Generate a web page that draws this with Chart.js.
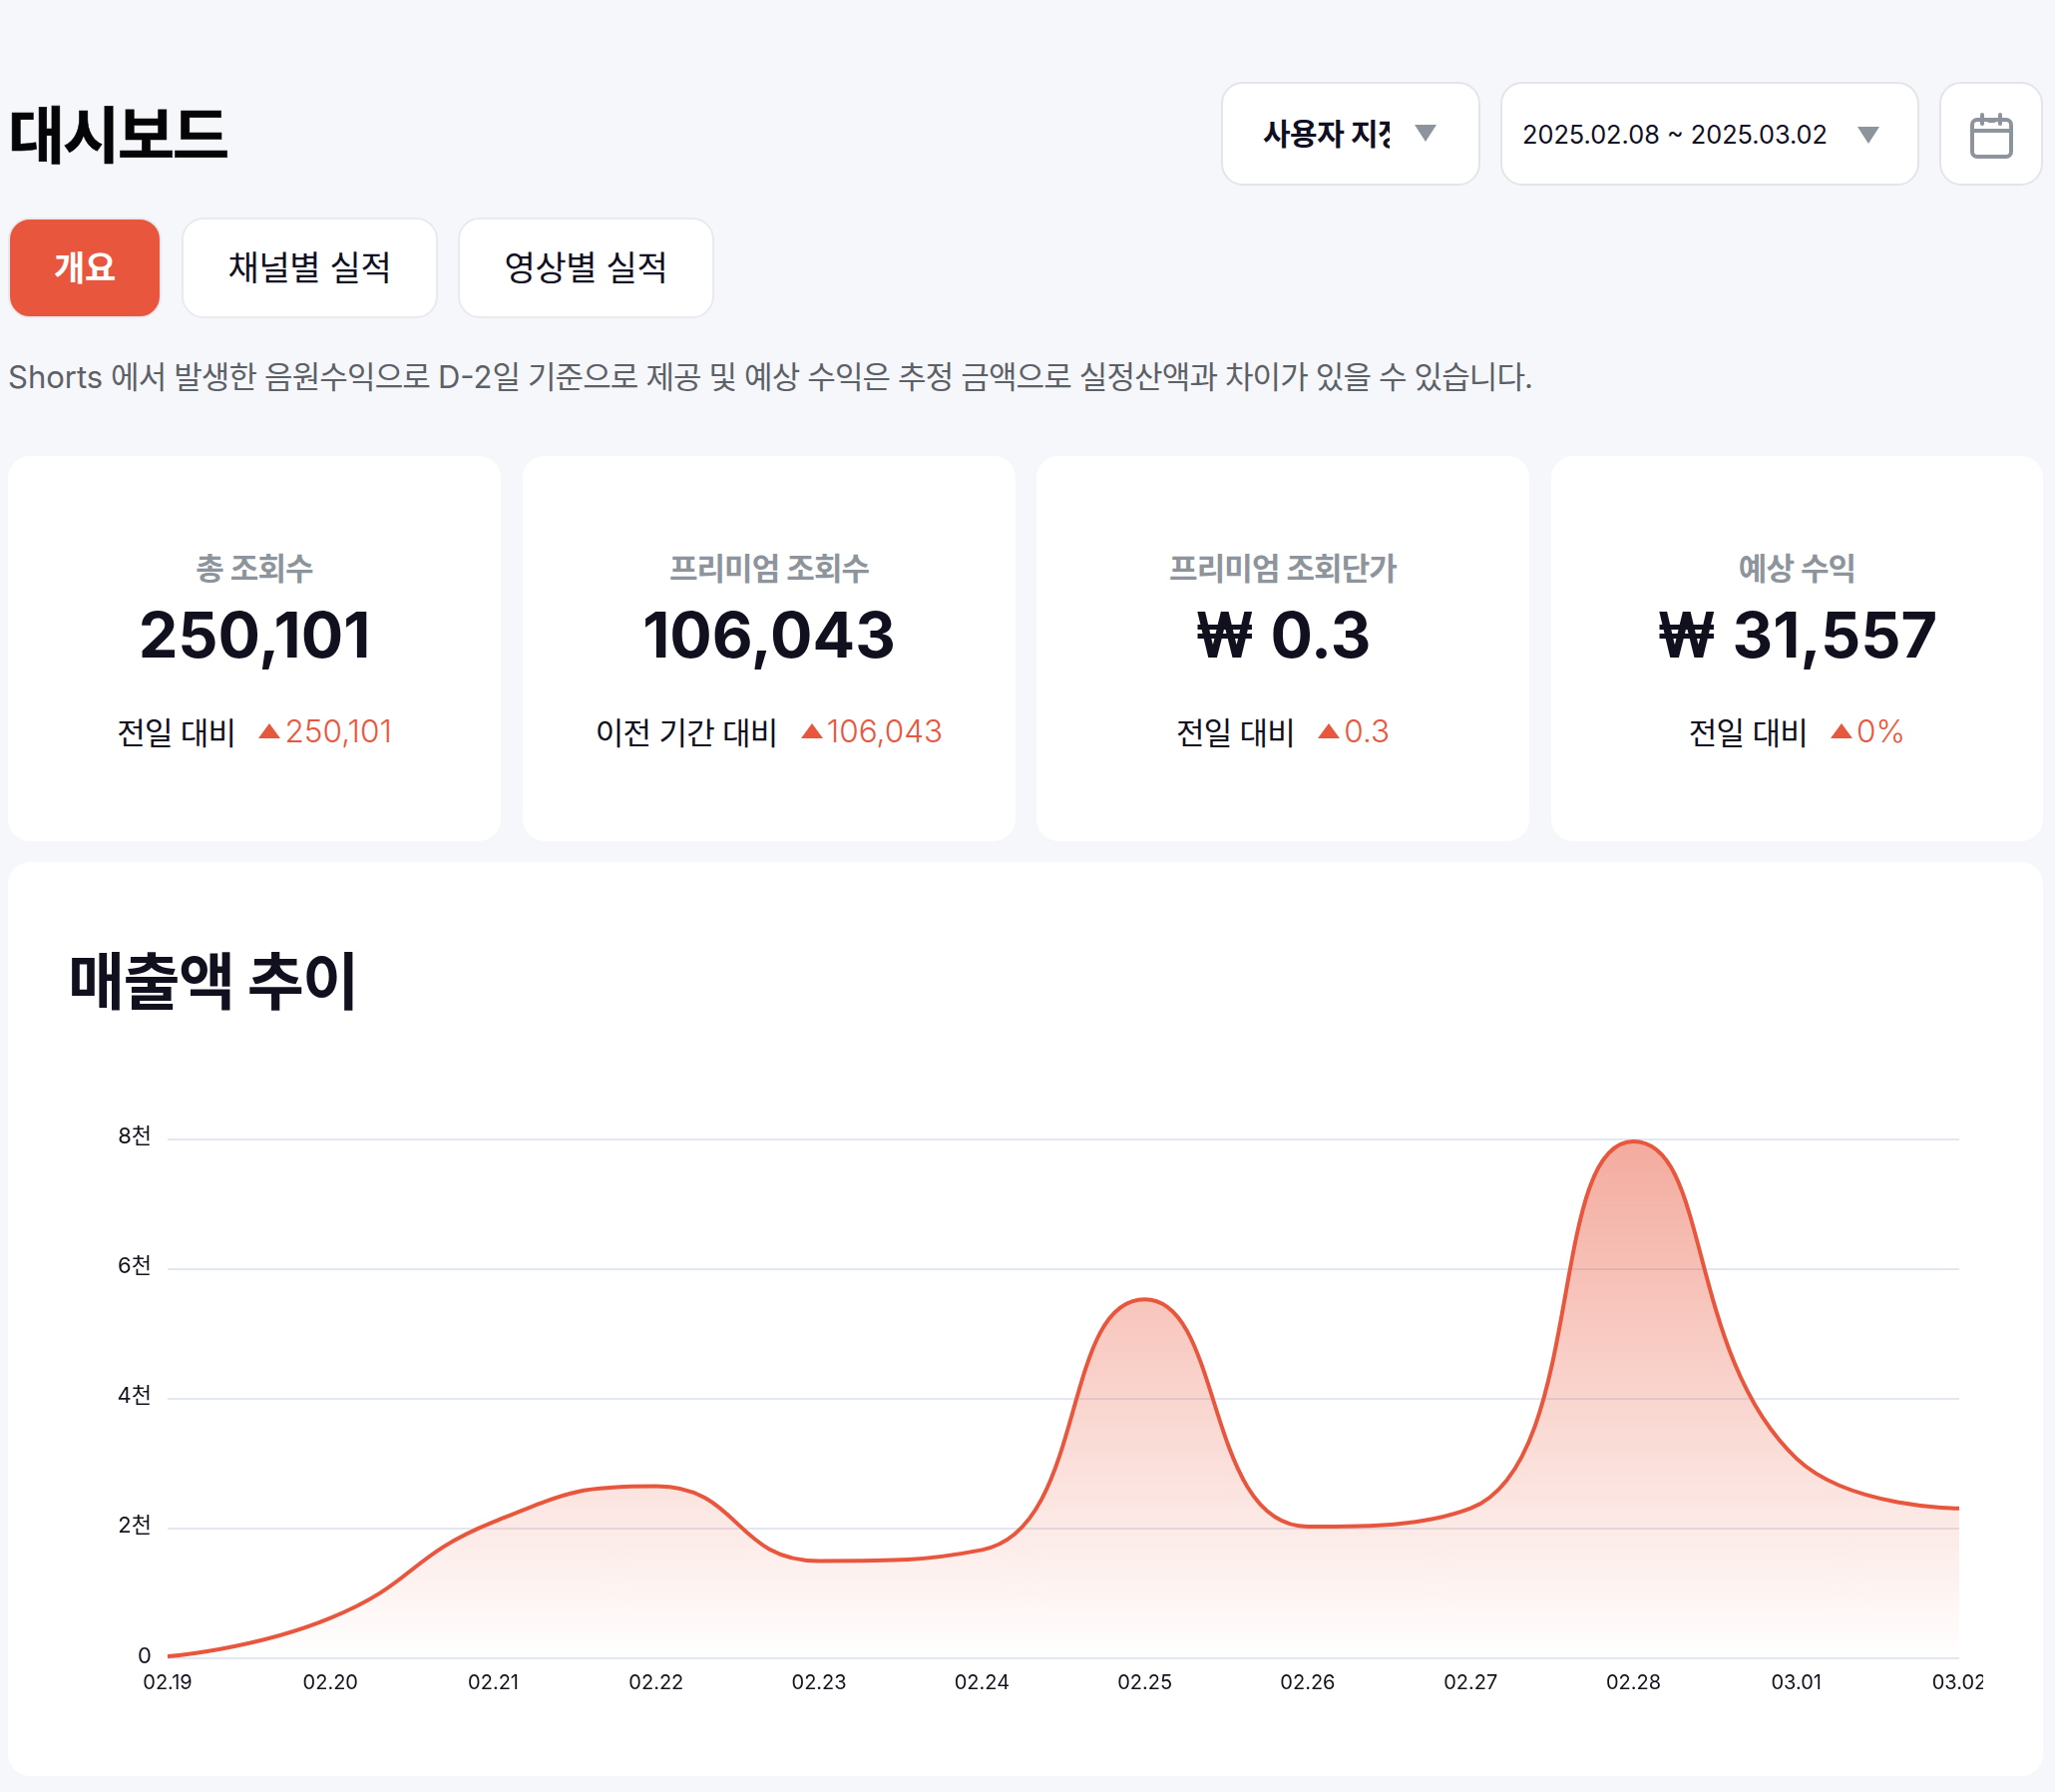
<!DOCTYPE html>
<html lang="ko"><head><meta charset="utf-8">
<script src="https://cdn.jsdelivr.net/npm/chart.js@4"></script>
<style>
*{box-sizing:border-box}
html,body{margin:0;padding:0;width:2060px;height:1796px;overflow:hidden;background:#f6f7fb;font-family:Inter,"Noto Sans CJK KR",sans-serif;color:#0f0f23}
.a{position:absolute;white-space:nowrap}
.box{position:absolute;background:#fff;border:2px solid #e3e5ea;border-radius:22px}
.tab{position:absolute;top:218px;height:101px;padding-bottom:5px;border-radius:22px;background:#fff;border:2px solid #e8eaef;display:flex;align-items:center;justify-content:center;font-size:34px;letter-spacing:-.3px}
.card{position:absolute;top:457px;height:386px;width:494px;background:#fff;border-radius:22px;text-align:center}
.lab{position:absolute;left:0;right:0;top:90px;line-height:46px;font-size:31px;font-weight:600;color:#8d949c;letter-spacing:-.9px}
.val{position:absolute;left:0;right:0;top:136px;line-height:86px;font-size:63px;font-weight:700;color:#10101f;letter-spacing:0}
.val u{text-decoration:none;display:inline-block;transform:scaleX(.9);margin:0 -2.3px}
.del{position:absolute;left:0;right:0;top:252px;height:46px;display:flex;justify-content:center;align-items:center;font-size:31px;font-weight:300}
.del b{color:#0f0f1f;margin-right:23px;font-weight:400;letter-spacing:-.7px}
.del i{display:block;width:0;height:0;border-left:11.5px solid transparent;border-right:11.5px solid transparent;border-bottom:15px solid #e8573d;margin-right:4px}
.del span{color:#e8573d;letter-spacing:0;font-size:31.6px}
.car{position:absolute;width:0;height:0;border-left:11.5px solid transparent;border-right:11.5px solid transparent;border-top:17px solid #8d949c}
.lat{letter-spacing:0}
</style></head><body>
<div class="a" style="left:8px;top:99px;font-size:62px;line-height:76px;font-weight:700;-webkit-text-stroke:.6px #050508;color:#050508;letter-spacing:-2px">대시보드</div>

<div class="box" style="left:1224px;top:82px;width:260px;height:104px"></div>
<div class="a" style="left:1266px;top:113px;width:127px;overflow:hidden;font-size:30px;line-height:42px;font-weight:700;letter-spacing:-.5px">사용자 지정</div>
<div class="car" style="left:1418px;top:125px"></div>
<div class="box" style="left:1504px;top:82px;width:420px;height:104px"></div>
<div class="a" style="left:1526px;top:115px;font-size:25.3px;line-height:40px;font-weight:400;letter-spacing:0">2025.02.08 ~ 2025.03.02</div>
<div class="car" style="left:1862px;top:127px"></div>
<div class="box" style="left:1944px;top:82px;width:104px;height:104px"></div>
<svg class="a" style="left:1974px;top:113px" width="46" height="46" viewBox="0 0 46 46" fill="none" stroke="#8d949c" stroke-width="4" stroke-linecap="round"><rect x="3" y="7" width="39" height="37" rx="5"/><path d="M3 18H42M13 2V11M31 2V11M20 8H25"/></svg>

<div class="tab" style="left:8px;width:154px;background:#e8573d;border-color:#e8eaef;color:#fff;font-weight:700">개요</div>
<div class="tab" style="left:182px;width:257px">채널별 실적</div>
<div class="tab" style="left:459px;width:257px">영상별 실적</div>

<div class="a" style="left:8px;top:356px;font-size:31px;line-height:44px;font-weight:400;color:#5c6067;letter-spacing:-.86px"><span class="lat">Shorts</span> 에서 발생한 음원수익으로 <span class="lat">D-2</span>일 기준으로 제공 및 예상 수익은 추정 금액으로 실정산액과 차이가 있을 수 있습니다.</div>

<div class="card" style="left:8px"><div class="lab">총 조회수</div><div class="val">250,101</div><div class="del"><b>전일 대비</b><i></i><span>250,101</span></div></div>
<div class="card" style="left:524px"><div class="lab">프리미엄 조회수</div><div class="val">106,043</div><div class="del"><b>이전 기간 대비</b><i></i><span>106,043</span></div></div>
<div class="card" style="left:1039px"><div class="lab">프리미엄 조회단가</div><div class="val"><u>₩</u> 0.3</div><div class="del"><b>전일 대비</b><i></i><span>0.3</span></div></div>
<div class="card" style="left:1555px;width:493px"><div class="lab">예상 수익</div><div class="val"><u>₩</u> 31,557</div><div class="del"><b>전일 대비</b><i></i><span>0%</span></div></div>

<div class="card" style="left:8px;top:864px;width:2040px;height:916px"></div>
<div class="a" style="left:68px;top:947px;font-size:62px;line-height:76px;font-weight:700;color:#10101f;letter-spacing:-1.5px">매출액 추이</div>
<div class="a" style="left:68px;top:1100px;width:1920px;height:620px"><canvas id="c" width="1920" height="620" style="display:block;width:1920px;height:620px"></canvas></div>

<script>
const categories = ["02.19","02.20","02.21","02.22","02.23","02.24","02.25","02.26","02.27","02.28","03.01","03.02"];
const revenue = [30,620,2100,2650,1500,1670,5530,2030,2310,7960,3080,2310];
const yTickValues = [0,2000,4000,6000,8000];
const yTickLabels = ["0","2천","4천","6천","8천"];
const FONT = 'Inter,"Noto Sans CJK KR",sans-serif';
const SMOOTH = 0.5;
const clamp=(v,a,b)=>Math.min(Math.max(v,Math.min(a,b)),Math.max(a,b));
// length-weighted smoothing with extreme clamping, derived from the scaled points
const weightedCurve = {
  id:'weightedCurve',
  afterDatasetsUpdate(chart){
    const meta = chart.getDatasetMeta(0);
    meta.dataset.updateControlPoints(chart.chartArea,'x');
    const pts = meta.data;
    pts.forEach((p,i)=>{
      const prev=pts[i-1],next=pts[i+1];
      if(!prev||!next){p.cp1x=p.x;p.cp1y=p.y;p.cp2x=p.x;p.cp2y=p.y;return;}
      const lp=Math.hypot(p.x-prev.x,p.y-prev.y),ln=Math.hypot(next.x-p.x,next.y-p.y);
      const r=ln/(ln+lp);
      let vx=next.x-prev.x,vy=next.y-prev.y;
      let nx=clamp(p.x+vx*SMOOTH*r,p.x,next.x),ny=clamp(p.y+vy*SMOOTH*r,p.y,next.y);
      vx=nx-p.x;vy=ny-p.y;
      let cx=clamp(p.x-vx*lp/ln,prev.x,p.x),cy=clamp(p.y-vy*lp/ln,prev.y,p.y);
      vx=p.x-cx;vy=p.y-cy;
      p.cp1x=cx;p.cp1y=cy;
      p.cp2x=p.x+vx*ln/lp;p.cp2y=p.y+vy*ln/lp;
    });
  }
};
new Chart(document.getElementById('c'), {
  type:'line',
  plugins:[weightedCurve],
  data:{labels:categories,datasets:[{
    data:revenue,
    borderColor:'#e8573d',
    borderWidth:4,
    pointRadius:0,
    cubicInterpolationMode:'monotone',
    fill:'origin',
    backgroundColor(ctx){
      const a=ctx.chart.chartArea;
      if(!a) return 'rgba(232,87,61,.3)';
      const g=ctx.chart.ctx.createLinearGradient(0,a.top,0,a.bottom);
      g.addColorStop(0,'rgba(232,87,61,.5)');
      g.addColorStop(1,'rgba(232,87,61,0)');
      return g;
    }
  }]},
  options:{
    responsive:false,animation:false,devicePixelRatio:1,
    layout:{padding:{top:41.5,bottom:0,left:0,right:0}},
    plugins:{legend:{display:false},tooltip:{enabled:false}},
    scales:{
      x:{
        grid:{display:false},border:{display:false},
        ticks:{color:'#14141f',font:{family:FONT,size:20,weight:400},padding:5,maxRotation:0,autoSkip:false},
        afterFit(s){s.paddingRight=24;s.paddingLeft=0;s.height=58;}
      },
      y:{
        min:0,max:8000,
        afterBuildTicks(s){s.ticks=yTickValues.map(v=>({value:v}));},
        afterFit(s){s.width=100;s.paddingTop=0;s.paddingBottom=0;},
        grid:{color:'#e2e7f1',lineWidth:2,drawTicks:false},border:{display:false},
        ticks:{color:'#14141f',font:{family:FONT,size:22,weight:400},padding:16,labelOffset:-2,
          callback(v){return yTickLabels[yTickValues.indexOf(v)];}}
      }
    }
  }
});
</script>
</body></html>
